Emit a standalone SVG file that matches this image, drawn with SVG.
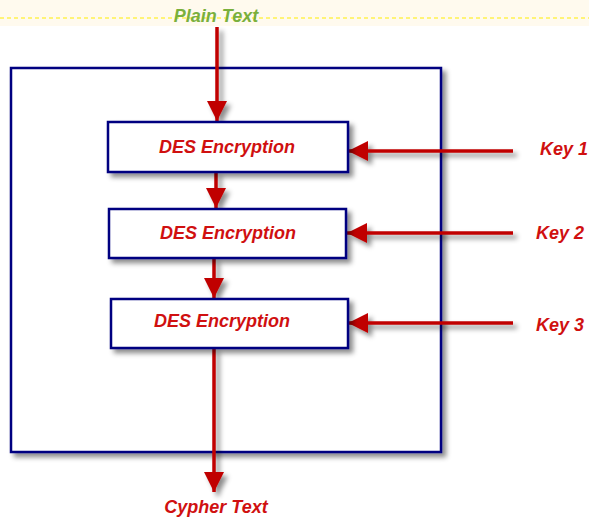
<svg xmlns="http://www.w3.org/2000/svg" width="589" height="519" viewBox="0 0 589 519">
<defs>
<filter id="sh" x="-20%" y="-20%" width="150%" height="150%">
<feDropShadow dx="4" dy="4" stdDeviation="2.5" flood-color="#000" flood-opacity="0.45"/>
</filter>
<marker id="ah" viewBox="0 0 10 10" refX="10" refY="5" markerWidth="5.8" markerHeight="5.8" orient="auto" markerUnits="strokeWidth">
<path d="M0,0 L10,5 L0,10 Z" fill="#c00000"/>
</marker>
<style>
.box{fill:#fff;stroke:#000080;stroke-width:2.5}
.lbl{font-family:"Liberation Sans",Arial,sans-serif;font-style:italic;font-weight:bold;font-size:18px;fill:#d01010;text-anchor:middle;dominant-baseline:central}
.con{stroke:#c00000;stroke-width:3.5;fill:none;marker-end:url(#ah)}
</style>
</defs>
<rect x="0" y="0" width="589" height="26" fill="#fffaee"/>
<line x1="0" y1="18" x2="589" y2="18" stroke="#ffee00" stroke-width="1.2" stroke-dasharray="4,3"/>
<g id="outer"><rect class="box" x="11" y="68" width="430" height="384" filter="url(#sh)"/></g>
<g id="connectors" filter="url(#sh)">
<line class="con" x1="217" y1="27" x2="217" y2="121"/>
<line class="con" x1="216" y1="172" x2="216" y2="208"/>
<line class="con" x1="214" y1="258" x2="214" y2="298"/>
<line class="con" x1="214" y1="348" x2="214" y2="492"/>
<line class="con" x1="513" y1="151" x2="348" y2="151"/>
<line class="con" x1="513" y1="233" x2="347" y2="233"/>
<line class="con" x1="513" y1="323" x2="348" y2="323"/>
</g>
<g id="des1"><rect class="box" x="108" y="122" width="240" height="50" filter="url(#sh)"/><text class="lbl" x="227" y="147">DES Encryption</text></g>
<g id="des2"><rect class="box" x="109" y="209" width="237" height="49" filter="url(#sh)"/><text class="lbl" x="228" y="233">DES Encryption</text></g>
<g id="des3"><rect class="box" x="111" y="299" width="237" height="49" filter="url(#sh)"/><text class="lbl" x="222" y="321">DES Encryption</text></g>
<g id="key1"><text class="lbl" x="564" y="149">Key 1</text></g>
<g id="key2"><text class="lbl" x="560" y="233">Key 2</text></g>
<g id="key3"><text class="lbl" x="560" y="325">Key 3</text></g>
<g id="plain"><text class="lbl" x="216" y="16" style="fill:#7ab03c">Plain Text</text></g>
<g id="cypher"><text class="lbl" x="216" y="507">Cypher Text</text></g>
</svg>
